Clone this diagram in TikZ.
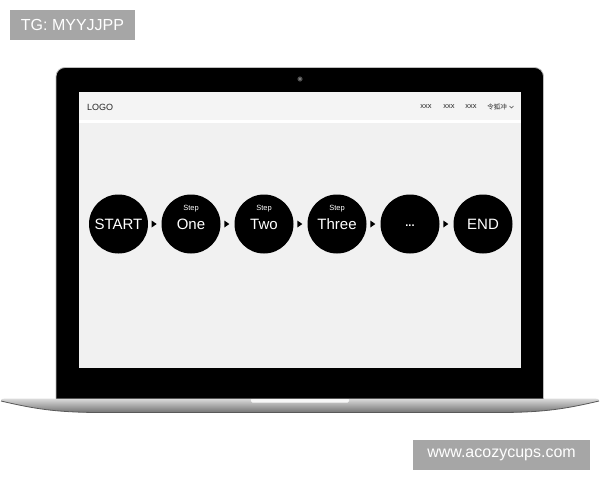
\documentclass[tikz,border=0pt]{standalone}
\usepackage{fontspec}
\setmainfont{Liberation Sans}
\newfontfamily\cjk{Noto Sans CJK SC}
\usetikzlibrary{shapes.geometric,calc}
\definecolor{tagbg}{HTML}{A6A6A6}
\definecolor{screenbg}{HTML}{F1F1F1}
\definecolor{headbg}{HTML}{F4F4F4}
\definecolor{rimgray}{HTML}{BDBDBD}
\tikzset{
  tagbox/.style={fill=tagbg, text=white, minimum height=30pt, inner sep=0pt, font=\fontsize{16}{16}\selectfont},
  stepcirc/.style={circle, fill=black, minimum size=59pt, inner sep=0pt},
  maintext/.style={text=white, anchor=base, inner sep=0pt, font=\fontsize{15}{15}\selectfont},
  smalltext/.style={text=white, anchor=base, inner sep=0pt, font=\fontsize{7.5}{7.5}\selectfont},
  navtext/.style={text=black!85, inner sep=0pt, font=\fontsize{7.5}{7.5}\selectfont},
  tri/.style={isosceles triangle, isosceles triangle stretches, fill=black, inner sep=0pt, minimum height=5pt, minimum width=7pt},
}
\begin{document}
\begin{tikzpicture}[x=1pt,y=-1pt]
\useasboundingbox (0,0) rectangle (600,480);
\fill[white] (0,0) rectangle (600,480);
% labels
\node[tagbox, minimum width=125pt] (tg) at (72.5,25) {TG: MYYJJPP};
\node[tagbox, minimum width=177pt] (www) at (501.5,455) {www.acozycups.com};
% base
\shade[top color=black!14, bottom color=black!55]
  (1,401) .. controls (1,399) .. (6,398.5) -- (594,398.5) .. controls (599,399) .. (599,401)
  .. controls (565,409) and (545,412) .. (505,412.5) -- (95,412.5)
  .. controls (55,412) and (35,409) .. cycle;
\draw[black!65, line width=0.8pt] (1,401) .. controls (35,409) and (55,412) .. (95,412.5) -- (505,412.5) .. controls (545,412) and (565,409) .. (599,401);
\fill[black!3, rounded corners=1.5pt] (251,398) -- (251,402.5) -- (349,402.5) -- (349,398) -- cycle;
% bezel
\filldraw[fill=black, draw=rimgray, line width=0.8pt, rounded corners=9pt]
  (56,398.5) -- (56,67.5) -- (543.5,67.5) -- (543.5,398.5);
\fill[black!70] (300,79) circle (2.6);
\fill[black!45] (300,79) circle (1.2);
% screen
\fill[screenbg] (79,92) rectangle (521,368);
\fill[headbg] (79,92) rectangle (521,120);
\fill[white] (79,120) rectangle (521,123);
\node[navtext, anchor=west, font=\fontsize{9}{9}\selectfont] (logo) at (87,107) {LOGO};
\node[navtext] (nav1) at (426,107) {xxx};
\node[navtext] (nav2) at (449,107) {xxx};
\node[navtext] (nav3) at (471,107) {xxx};
\node[navtext, font=\cjk\fontsize{6.5}{6.5}\selectfont] (nav4) at (497,107) {令狐冲};
\draw[black!70, line width=0.5pt] (509.5,106) -- (511.5,108) -- (513.5,106);
% steps
\node[stepcirc] (c0) at (118.5,224) {};
\node[stepcirc] (c1) at (191,224) {};
\node[stepcirc] (c2) at (264,224) {};
\node[stepcirc] (c3) at (337,224) {};
\node[stepcirc] (c4) at (410,224) {};
\node[stepcirc] (c5) at (483,224) {};
\node[maintext] (t0) at (118.5,229.5) {START};
\node[maintext] (t1) at (191,229.5) {One};
\node[maintext] (t2) at (264,229.5) {Two};
\node[maintext] (t3) at (337,229.5) {Three};
\node[maintext, font=\bfseries\fontsize{11}{11}\selectfont] (t4) at (410,226) {...};
\node[maintext] (t5) at (483,229.5) {END};
\node[smalltext] (s1) at (191,210.5) {Step};
\node[smalltext] (s2) at (264,210.5) {Step};
\node[smalltext] (s3) at (337,210.5) {Step};
\node[tri] (a1) at ($(c0.east)!0.4!(c1.west)$) {};
\node[tri] (a2) at ($(c1.east)!0.4!(c2.west)$) {};
\node[tri] (a3) at ($(c2.east)!0.4!(c3.west)$) {};
\node[tri] (a4) at ($(c3.east)!0.4!(c4.west)$) {};
\node[tri] (a5) at ($(c4.east)!0.4!(c5.west)$) {};
\end{tikzpicture}
\end{document}
